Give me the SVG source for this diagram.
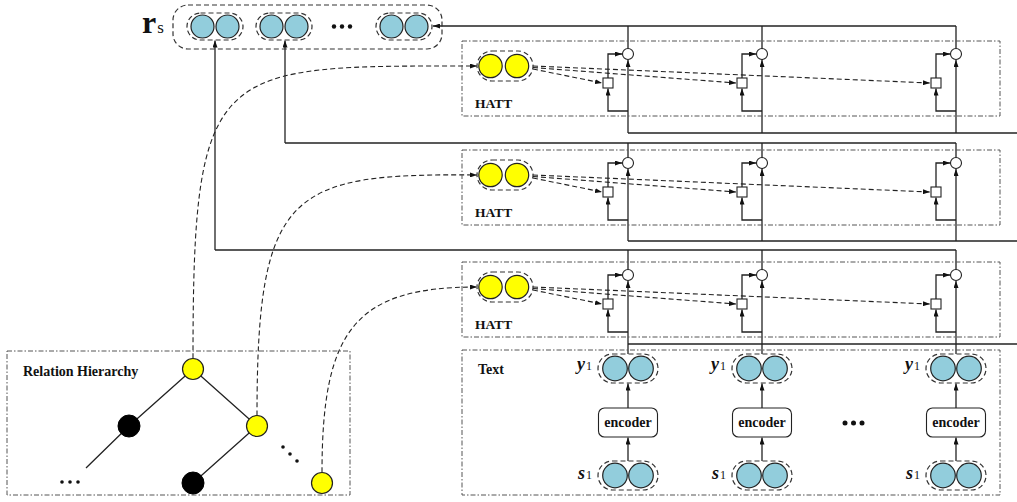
<svg xmlns="http://www.w3.org/2000/svg" width="1017" height="502" viewBox="0 0 1017 502">
<style>
.box{fill:none;stroke:#555;stroke-width:1;stroke-dasharray:5 2 1.5 2}
.wrap{fill:none;stroke:#333;stroke-width:1.2;stroke-dasharray:5 3}
.blue{fill:#92CDDC;stroke:#222;stroke-width:1.2}
.yel{fill:#FFFF00;stroke:#222;stroke-width:1.2}
.blk{fill:#000;stroke:#000;stroke-width:1}
.ln{fill:none;stroke:#222;stroke-width:1.3}
.dl{fill:none;stroke:#222;stroke-width:1.1;stroke-dasharray:5 3}
.gate{fill:#fff;stroke:#222;stroke-width:1.1}
.lbl{font-family:"Liberation Serif",serif;font-weight:bold;font-size:14px;fill:#111}
.enc{fill:#fff;stroke:#222;stroke-width:1.1}
.var{font-family:"Liberation Serif",serif;font-weight:bold;font-style:italic;font-size:18px;fill:#111}
.sub{font-family:"Liberation Serif",serif;font-weight:normal;font-style:normal;font-size:12px}
</style>
<defs>
<marker id="ar" viewBox="0 0 7 5" refX="7" refY="2.5" markerWidth="7" markerHeight="5" markerUnits="userSpaceOnUse" orient="auto"><path d="M0,0L7,2.5L0,5z" fill="#111"/></marker>
<g id="bluepair"><rect class="wrap" x="-30" y="-14.5" width="60" height="29" rx="14.5"/><circle class="blue" cx="-13" cy="0" r="12.3"/><circle class="blue" cx="13" cy="0" r="12.3"/></g>
<g id="smallpair"><rect class="wrap" x="-28" y="-13.5" width="56" height="27" rx="13.5"/><circle class="blue" cx="-12.5" cy="0" r="11.5"/><circle class="blue" cx="12.5" cy="0" r="11.5"/></g>
<g id="hattbody">
<rect class="box" x="462" y="41" width="538" height="75"/>
<rect class="wrap" x="477" y="51" width="56" height="30" rx="15"/>
<circle class="yel" cx="490.5" cy="66" r="11.7"/>
<circle class="yel" cx="517" cy="66" r="11.7"/>
<text class="lbl" x="475" y="108" style="font-size:13.5px">HATT</text>
<path class="dl" d="M533,69L602,83" marker-end="url(#ar)"/>
<path class="dl" d="M533,67.5L736,83" marker-end="url(#ar)"/>
<path class="dl" d="M533,66L930,83" marker-end="url(#ar)"/>
<path class="ln" d="M628,111H608V88.5" marker-end="url(#ar)"/>
<path class="ln" d="M608,78V54H622" marker-end="url(#ar)"/>
<path class="ln" d="M762,111H742V88.5" marker-end="url(#ar)"/>
<path class="ln" d="M742,78V54H756" marker-end="url(#ar)"/>
<path class="ln" d="M956,111H936V88.5" marker-end="url(#ar)"/>
<path class="ln" d="M936,78V54H950" marker-end="url(#ar)"/>
<rect class="gate" x="603" y="78" width="10" height="10"/>
<rect class="gate" x="737" y="78" width="10" height="10"/>
<rect class="gate" x="931" y="78" width="10" height="10"/>
<circle class="gate" cx="628" cy="54" r="5.5"/>
<circle class="gate" cx="762" cy="54" r="5.5"/>
<circle class="gate" cx="956" cy="54" r="5.5"/>
</g>
<g id="column">
<use href="#bluepair" x="0" y="368.5"/>
<rect class="enc" x="-29.5" y="408" width="59" height="29" rx="6"/>
<text class="lbl" x="0" y="427" text-anchor="middle">encoder</text>
<path class="ln" d="M0,408V383.5" marker-end="url(#ar)"/>
<use href="#bluepair" x="0" y="475.5"/>
<path class="ln" d="M0,461V437.5" marker-end="url(#ar)"/>
<text class="var" x="-51" y="370">y<tspan class="sub" dx="1">1</tspan></text>
<text class="var" x="-50" y="479">s<tspan class="sub" dx="1">1</tspan></text>
</g>
</defs>

<g id="connectors">
<path class="ln" d="M956,26H433" marker-end="url(#ar)"/>
<path class="ln" d="M628,26V48.5M762,26V48.5M956,26V48.5"/>
<path class="ln" d="M628,133H1017"/>
<path class="ln" d="M628,133V60" marker-end="url(#ar)"/>
<path class="ln" d="M762,133V60" marker-end="url(#ar)"/>
<path class="ln" d="M956,133V60" marker-end="url(#ar)"/>
<path class="ln" d="M956,143H285"/>
<path class="ln" d="M285,143V40.5" marker-end="url(#ar)"/>
<path class="ln" d="M628,143V157.5M762,143V157.5M956,143V157.5"/>
<path class="ln" d="M628,241H1017"/>
<path class="ln" d="M628,241V169" marker-end="url(#ar)"/>
<path class="ln" d="M762,241V169" marker-end="url(#ar)"/>
<path class="ln" d="M956,241V169" marker-end="url(#ar)"/>
<path class="ln" d="M956,250H215"/>
<path class="ln" d="M215,250V40.5" marker-end="url(#ar)"/>
<path class="ln" d="M628,250V269.5M762,250V269.5M956,250V269.5"/>
<path class="ln" d="M628,344H1017"/>
<path class="ln" d="M628,354V281" marker-end="url(#ar)"/>
<path class="ln" d="M762,354V281" marker-end="url(#ar)"/>
<path class="ln" d="M956,354V281" marker-end="url(#ar)"/>
<path class="dl" d="M193,358.5C193,60 215,66 477,66" marker-end="url(#ar)"/>
<path class="dl" d="M257,415.5C257,190 290,173 477,175" marker-end="url(#ar)"/>
<path class="dl" d="M322,472.5C322,330 355,287 477,287" marker-end="url(#ar)"/>
<path class="ln" d="M193,369L129,426L86,468M193,369L257,426L193,483"/>
</g>

<g id="rs">
<rect class="wrap" x="173" y="5" width="269" height="44" rx="15"/>
<use href="#smallpair" x="215" y="26.5"/>
<use href="#smallpair" x="284" y="26.5"/>
<use href="#smallpair" x="404" y="26.5"/>
<circle cx="334" cy="26.5" r="2.2" fill="#111"/>
<circle cx="342" cy="26.5" r="2.2" fill="#111"/>
<circle cx="350" cy="26.5" r="2.2" fill="#111"/>
<text x="142" y="33" style="font-family:'Liberation Serif',serif;font-weight:bold;font-size:32px;fill:#111">r<tspan style="font-weight:normal;font-size:17px" dx="1">s</tspan></text>
</g>

<g id="hatt1"><use href="#hattbody"/></g>
<g id="hatt2"><use href="#hattbody" y="109"/></g>
<g id="hatt3"><use href="#hattbody" y="221"/></g>

<g id="text-block">
<rect class="box" x="462" y="350" width="538" height="145"/>
<text class="lbl" x="478" y="374">Text</text>
<use href="#column" x="628"/>
<use href="#column" x="762"/>
<use href="#column" x="956"/>
<circle cx="845" cy="423" r="2.5" fill="#111"/>
<circle cx="853.5" cy="423" r="2.5" fill="#111"/>
<circle cx="862" cy="423" r="2.5" fill="#111"/>
</g>

<g id="relation-hierarchy">
<rect class="box" x="7" y="351" width="343" height="144"/>
<text class="lbl" x="23" y="376">Relation Hierarchy</text>
<circle class="yel" cx="193" cy="369" r="10.5"/>
<circle class="blk" cx="129" cy="426" r="11"/>
<circle class="yel" cx="257" cy="426" r="10.5"/>
<circle class="blk" cx="193" cy="483" r="11"/>
<circle class="yel" cx="322" cy="483" r="10.5"/>
<circle cx="62" cy="482" r="1.8" fill="#111"/>
<circle cx="70" cy="482" r="1.8" fill="#111"/>
<circle cx="78" cy="482" r="1.8" fill="#111"/>
<circle cx="283" cy="447" r="1.8" fill="#111"/>
<circle cx="290" cy="454" r="1.8" fill="#111"/>
<circle cx="297" cy="461" r="1.8" fill="#111"/>
</g>
</svg>
